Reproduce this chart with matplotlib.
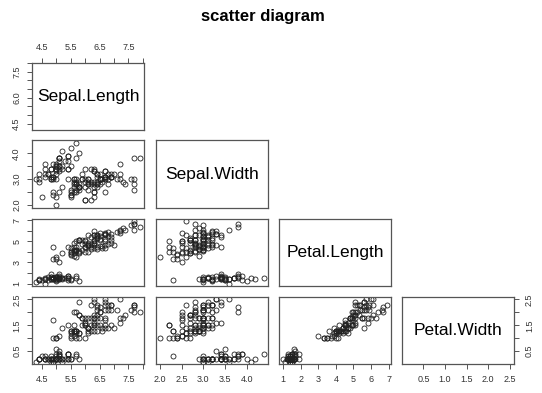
import numpy as np
import matplotlib
matplotlib.use("Agg")
import matplotlib.pyplot as plt

plt.rcParams["font.family"] = ["Liberation Sans", "DejaVu Sans"]

# iris data
sepal_length = [
    5.1, 4.9, 4.7, 4.6, 5.0, 5.4, 4.6, 5.0, 4.4, 4.9,
    5.4, 4.8, 4.8, 4.3, 5.8, 5.7, 5.4, 5.1, 5.7, 5.1,
    5.4, 5.1, 4.6, 5.1, 4.8, 5.0, 5.0, 5.2, 5.2, 4.7,
    4.8, 5.4, 5.2, 5.5, 4.9, 5.0, 5.5, 4.9, 4.4, 5.1,
    5.0, 4.5, 4.4, 5.0, 5.1, 4.8, 5.1, 4.6, 5.3, 5.0,
    7.0, 6.4, 6.9, 5.5, 6.5, 5.7, 6.3, 4.9, 6.6, 5.2,
    5.0, 5.9, 6.0, 6.1, 5.6, 6.7, 5.6, 5.8, 6.2, 5.6,
    5.9, 6.1, 6.3, 6.1, 6.4, 6.6, 6.8, 6.7, 6.0, 5.7,
    5.5, 5.5, 5.8, 6.0, 5.4, 6.0, 6.7, 6.3, 5.6, 5.5,
    5.5, 6.1, 5.8, 5.0, 5.6, 5.7, 5.7, 6.2, 5.1, 5.7,
    6.3, 5.8, 7.1, 6.3, 6.5, 7.6, 4.9, 7.3, 6.7, 7.2,
    6.5, 6.4, 6.8, 5.7, 5.8, 6.4, 6.5, 7.7, 7.7, 6.0,
    6.9, 5.6, 7.7, 6.3, 6.7, 7.2, 6.2, 6.1, 6.4, 7.2,
    7.4, 7.9, 6.4, 6.3, 6.1, 7.7, 6.3, 6.4, 6.0, 6.9,
    6.7, 6.9, 5.8, 6.8, 6.7, 6.7, 6.3, 6.5, 6.2, 5.9,
]
sepal_width = [
    3.5, 3.0, 3.2, 3.1, 3.6, 3.9, 3.4, 3.4, 2.9, 3.1,
    3.7, 3.4, 3.0, 3.0, 4.0, 4.4, 3.9, 3.5, 3.8, 3.8,
    3.4, 3.7, 3.6, 3.3, 3.4, 3.0, 3.4, 3.5, 3.4, 3.2,
    3.1, 3.4, 4.1, 4.2, 3.1, 3.2, 3.5, 3.6, 3.0, 3.4,
    3.5, 2.3, 3.2, 3.5, 3.8, 3.0, 3.8, 3.2, 3.7, 3.3,
    3.2, 3.2, 3.1, 2.3, 2.8, 2.8, 3.3, 2.4, 2.9, 2.7,
    2.0, 3.0, 2.2, 2.9, 2.9, 3.1, 3.0, 2.7, 2.2, 2.5,
    3.2, 2.8, 2.5, 2.8, 2.9, 3.0, 2.8, 3.0, 2.9, 2.6,
    2.4, 2.4, 2.7, 2.7, 3.0, 3.4, 3.1, 2.3, 3.0, 2.5,
    2.6, 3.0, 2.6, 2.3, 2.7, 3.0, 2.9, 2.9, 2.5, 2.8,
    3.3, 2.7, 3.0, 2.9, 3.0, 3.0, 2.5, 2.9, 2.5, 3.6,
    3.2, 2.7, 3.0, 2.5, 2.8, 3.2, 3.0, 3.8, 2.6, 2.2,
    3.2, 2.8, 2.8, 2.7, 3.3, 3.2, 2.8, 3.0, 2.8, 3.0,
    2.8, 3.8, 2.8, 2.8, 2.6, 3.0, 3.4, 3.1, 3.0, 3.1,
    3.1, 3.1, 2.7, 3.2, 3.3, 3.0, 2.5, 3.0, 3.4, 3.0,
]
petal_length = [
    1.4, 1.4, 1.3, 1.5, 1.4, 1.7, 1.4, 1.5, 1.4, 1.5,
    1.5, 1.6, 1.4, 1.1, 1.2, 1.5, 1.3, 1.4, 1.7, 1.5,
    1.7, 1.5, 1.0, 1.7, 1.9, 1.6, 1.6, 1.5, 1.4, 1.6,
    1.6, 1.5, 1.5, 1.4, 1.5, 1.2, 1.3, 1.4, 1.3, 1.5,
    1.3, 1.3, 1.3, 1.6, 1.9, 1.4, 1.6, 1.4, 1.5, 1.4,
    4.7, 4.5, 4.9, 4.0, 4.6, 4.5, 4.7, 3.3, 4.6, 3.9,
    3.5, 4.2, 4.0, 4.7, 3.6, 4.4, 4.5, 4.1, 4.5, 3.9,
    4.8, 4.0, 4.9, 4.7, 4.3, 4.4, 4.8, 5.0, 4.5, 3.5,
    3.8, 3.7, 3.9, 5.1, 4.5, 4.5, 4.7, 4.4, 4.1, 4.0,
    4.4, 4.6, 4.0, 3.3, 4.2, 4.2, 4.2, 4.3, 3.0, 4.1,
    6.0, 5.1, 5.9, 5.6, 5.8, 6.6, 4.5, 6.3, 5.8, 6.1,
    5.1, 5.3, 5.5, 5.0, 5.1, 5.3, 5.5, 6.7, 6.9, 5.0,
    5.7, 4.9, 6.7, 4.9, 5.7, 6.0, 4.8, 4.9, 5.6, 5.8,
    6.1, 6.4, 5.6, 5.1, 5.6, 6.1, 5.6, 5.5, 4.8, 5.4,
    5.6, 5.1, 5.1, 5.9, 5.7, 5.2, 5.0, 5.2, 5.4, 5.1,
]
petal_width = [
    0.2, 0.2, 0.2, 0.2, 0.2, 0.4, 0.3, 0.2, 0.2, 0.1,
    0.2, 0.2, 0.1, 0.1, 0.2, 0.4, 0.4, 0.3, 0.3, 0.3,
    0.2, 0.4, 0.2, 0.5, 0.2, 0.2, 0.4, 0.2, 0.2, 0.2,
    0.2, 0.4, 0.1, 0.2, 0.2, 0.2, 0.2, 0.1, 0.2, 0.2,
    0.3, 0.3, 0.2, 0.6, 0.4, 0.3, 0.2, 0.2, 0.2, 0.2,
    1.4, 1.5, 1.5, 1.3, 1.5, 1.3, 1.6, 1.0, 1.3, 1.4,
    1.0, 1.5, 1.0, 1.4, 1.3, 1.4, 1.5, 1.0, 1.5, 1.1,
    1.8, 1.3, 1.5, 1.2, 1.3, 1.4, 1.4, 1.7, 1.5, 1.0,
    1.1, 1.0, 1.2, 1.6, 1.5, 1.6, 1.5, 1.3, 1.3, 1.3,
    1.2, 1.4, 1.2, 1.0, 1.3, 1.2, 1.3, 1.3, 1.1, 1.3,
    2.5, 1.9, 2.1, 1.8, 2.2, 2.1, 1.7, 1.8, 1.8, 2.5,
    2.0, 1.9, 2.1, 2.0, 2.4, 2.3, 1.8, 2.2, 2.3, 1.5,
    2.3, 2.0, 2.0, 1.8, 2.1, 1.8, 1.8, 1.8, 2.1, 1.6,
    1.9, 2.0, 2.2, 1.5, 1.4, 2.3, 2.4, 1.8, 1.8, 2.1,
    2.4, 2.3, 1.9, 2.3, 2.5, 2.3, 1.9, 2.0, 2.3, 1.8,
]

names = ["Sepal.Length", "Sepal.Width", "Petal.Length", "Petal.Width"]
data = [np.array(sepal_length), np.array(sepal_width),
        np.array(petal_length), np.array(petal_width)]

# tick positions and which ones get labels (R drops overlapping labels)
ticks = [
    [4.5, 5.0, 5.5, 6.0, 6.5, 7.0, 7.5, 8.0],
    [2.0, 2.5, 3.0, 3.5, 4.0],
    [1, 2, 3, 4, 5, 6, 7],
    [0.5, 1.0, 1.5, 2.0, 2.5],
]
x_labels = [
    ["4.5", "", "5.5", "", "6.5", "", "7.5", ""],
    ["2.0", "2.5", "3.0", "3.5", "4.0"],
    ["1", "2", "3", "4", "5", "6", "7"],
    ["0.5", "1.0", "1.5", "2.0", "2.5"],
]
y_labels = [
    ["4.5", "", "", "6.0", "", "", "7.5", ""],
    ["2.0", "", "3.0", "", "4.0"],
    ["1", "", "3", "", "5", "", "7"],
    ["0.5", "", "1.5", "", "2.5"],
]

W, H = 542, 393
fig = plt.figure(figsize=(W / 100, H / 100), dpi=100)

col_left = [32, 156, 279, 402]
row_top = [62.5, 140.5, 219, 297]
pw, ph = 112, 67

edge = "#555555"
txt = "#333333"


def lims(v):
    lo, hi = v.min(), v.max()
    pad = (hi - lo) * 0.04
    return lo - pad, hi + pad


for i in range(4):
    for j in range(i + 1):
        rect = [col_left[j] / W, 1 - (row_top[i] + ph) / H, pw / W, ph / H]
        ax = fig.add_axes(rect)
        ax.set_xlim(*lims(data[j]))
        ax.set_ylim(*lims(data[i]))
        for s in ax.spines.values():
            s.set_color(edge)
            s.set_linewidth(0.9)
        ax.tick_params(length=3.8, width=0.7, color=edge, labelsize=6.5,
                       labelcolor=txt, pad=4)
        ax.set_xticks(ticks[j])
        ax.set_yticks(ticks[i])
        ax.set_xticklabels(x_labels[j])
        ax.set_yticklabels(y_labels[i], rotation=90, va="center")

        show_top = i == 0
        show_bottom = i == 3
        show_left = j == 0
        show_right = j == 3
        ax.tick_params(top=show_top, labeltop=show_top,
                       bottom=show_bottom, labelbottom=show_bottom,
                       left=show_left, labelleft=show_left,
                       right=show_right, labelright=show_right)

        if i == j:
            ax.text(0.5, 0.5, names[i], transform=ax.transAxes,
                    ha="center", va="center", fontsize=12.5, color="black")
        else:
            ax.plot(data[j], data[i], "o", ms=3.6, mfc="none", mec="#222222",
                    mew=0.6)

fig.text(262.5 / W, 1 - 17 / H, "scatter diagram", ha="center", va="center",
         fontsize=12, fontweight="bold")

fig.savefig("out.png", dpi=100)
